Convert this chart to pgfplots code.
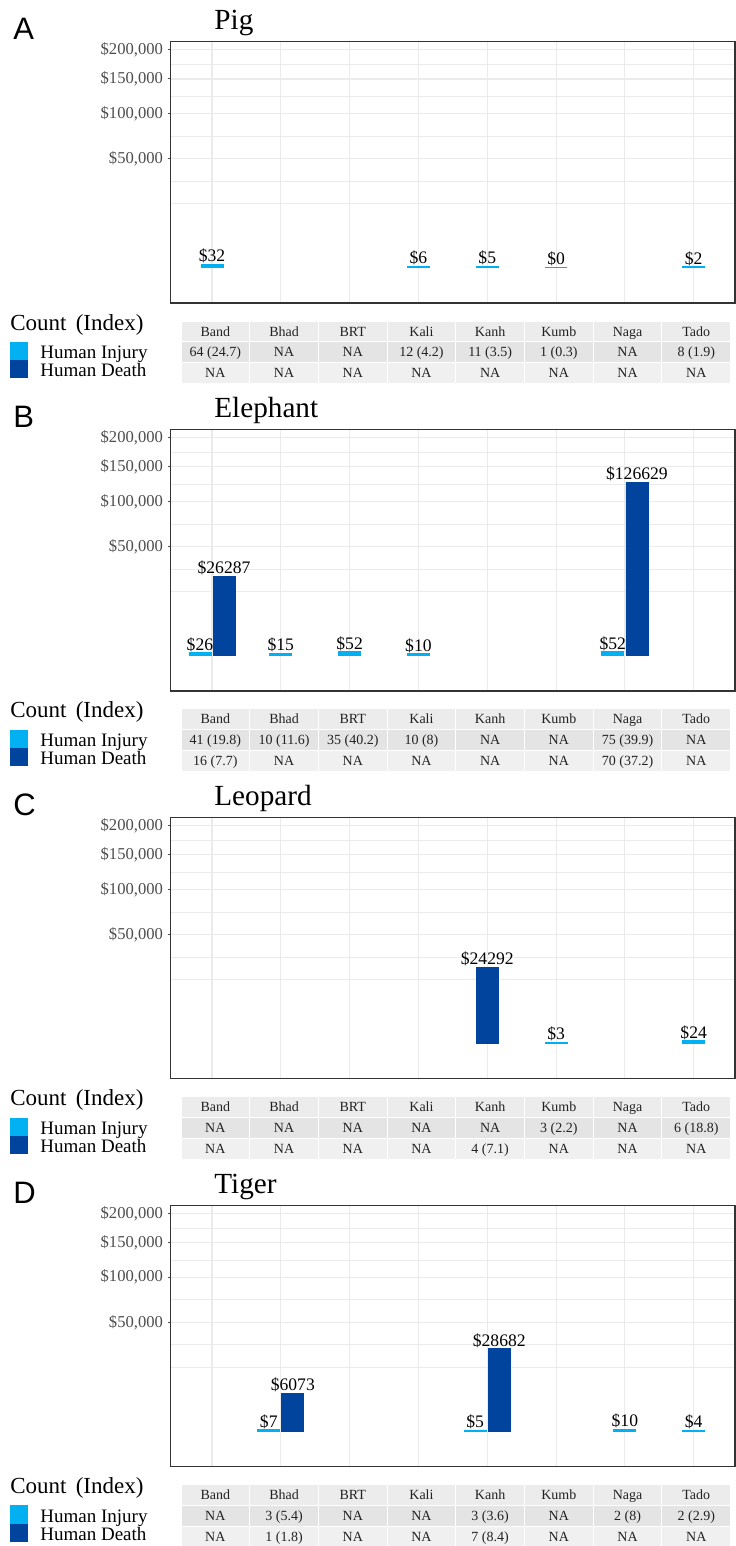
\documentclass[border=0pt]{standalone}
\usepackage{fontspec}
\setmainfont{Liberation Serif}
\newfontfamily\lettersf{Liberation Sans}
\usepackage{pgfplots}
\usepackage{pgfplotstable}
\pgfplotsset{compat=1.18}

\definecolor{injc}{HTML}{00B0F0}
\definecolor{deathc}{HTML}{00449E}
\definecolor{gridc}{HTML}{EBEBEB}
\definecolor{framec}{HTML}{333333}
\definecolor{tickc}{HTML}{4D4D4D}
\definecolor{hdrc}{HTML}{ECECEC}
\definecolor{rowAc}{HTML}{E4E4E4}
\definecolor{rowBc}{HTML}{F0F0F0}
\definecolor{tabtext}{HTML}{222222}

% ---- data (dollar values; x = category position 1..8, dodged by +-0.175) ----
\pgfplotstableread{
x y lab
1 32 32
4 6 6
5 5 5
6 0 0
8 2 2
}\pigInj
\pgfplotstableread{
x y lab
0.825 26 26
2 15 15
3 52 52
4 10 10
6.825 52 52
}\eleInj
\pgfplotstableread{
x y lab
1.175 26287 26287
7.175 126629 126629
}\eleDeath
\pgfplotstableread{
x y lab
6 3 3
8 24 24
}\leoInj
\pgfplotstableread{
x y lab
5 24292 24292
}\leoDeath
\pgfplotstableread{
x y lab
1.825 7 7
4.825 5 5
7 10 10
8 4 4
}\tigInj
\pgfplotstableread{
x y lab
2.175 6073 6073
5.175 28682 28682
}\tigDeath

\pgfplotsset{
 panel/.style={
  scale only axis, width=282.15pt, height=130.65pt, anchor=north west,
  xmin=0.4, xmax=8.6, ymin=-73.5, ymax=464,
  xtick={1,2,3,4,5,6,7,8}, xticklabels={},
  ytick={223.607,316.228,387.298,447.214},
  yticklabels={{\$50,000},{\$100,000},{\$150,000},{\$200,000}},
  minor ytick={130.986,177.296,269.917,351.763,417.256},
  xmajorgrids=true, ymajorgrids=true, yminorgrids=true,
  major grid style={draw=gridc, line width=0.55pt},
  minor grid style={draw=gridc, line width=0.3pt},
  axis line style={draw=framec, line width=0.6pt},
  tick align=outside, major tick length=1.5pt, minor tick length=0pt,
  xtick style={draw=none},
  ytick style={draw=tickc, line width=0.5pt},
  yticklabel style={font=\fontsize{8.3}{9}\selectfont, text=tickc, inner sep=0pt, xshift=-2.2pt},
  y filter/.expression={sqrt(y)},
  ybar, bar width=0.32, bar shift=0pt,
  point meta=explicit symbolic,
  nodes near coords={\$\pgfplotspointmeta},
  every node near coord/.append style={font=\fontsize{8.8}{10}\selectfont, text=black, anchor=south, inner sep=0pt, yshift=0.4pt},
  clip=false,
 },
 inj/.style={fill=injc, draw=injc, line width=0.4pt, bar shift=0pt},
 death/.style={fill=deathc, draw=deathc, line width=0.4pt, bar shift=0pt},
}

\tikzset{tabnode/.style={anchor=base, inner sep=0pt, font=\fontsize{7}{8}\selectfont, text=tabtext}}

\newcommand{\panelextras}[5]{%
\begin{scope}[x=0.5pt,y=-0.5pt,shift={(0,#1)}]
 \node[anchor=base west, inner sep=0pt, font=\lettersf\fontsize{15.5}{18}\selectfont] at (13,39.3) {#2};
 \node[anchor=base west, inner sep=0pt, font=\fontsize{14.6}{16}\selectfont] at (214,30) {#3};
 \node[anchor=base west, inner sep=0pt, font=\fontsize{11.5}{13}\selectfont] at (10,330) {Count\hspace{0.4em}(Index)};
 \fill[injc] (10,341.7) rectangle (27.7,360);
 \fill[deathc] (10,360) rectangle (27.7,378.3);
 \node[anchor=base west, inner sep=0pt, font=\fontsize{9.5}{11}\selectfont] at (40,358.3) {Human Injury};
 \node[anchor=base west, inner sep=0pt, font=\fontsize{9.5}{11}\selectfont] at (40,376.7) {Human Death};
 \foreach \c [count=\i from 0] in {Band,Bhad,BRT,Kali,Kanh,Kumb,Naga,Tado} {
   \fill[hdrc] ({181+68.7*\i+0.5},321.5) rectangle ({181+68.7*(\i+1)-0.5},341.3);
   \node[tabnode] at ({181+68.7*(\i+0.5)},336.0) {\c};
 }
 \foreach \v [count=\i from 0] in {#4} {
   \fill[rowAc] ({181+68.7*\i+0.5},342.3) rectangle ({181+68.7*(\i+1)-0.5},362.1);
   \node[tabnode] at ({181+68.7*(\i+0.5)},356.8) {\v};
 }
 \foreach \v [count=\i from 0] in {#5} {
   \fill[rowBc] ({181+68.7*\i+0.5},363.1) rectangle ({181+68.7*(\i+1)-0.5},382.9);
   \node[tabnode] at ({181+68.7*(\i+0.5)},377.6) {\v};
 }
\end{scope}}

\begin{document}
\begin{tikzpicture}
\useasboundingbox (0,0) rectangle (367.5pt,-773pt);

% ---------- A: Pig ----------
\begin{axis}[panel, at={(85.35pt,-20.85pt)}]
\addplot[inj] table[x=x,y=y,meta=lab] {\pigInj};
\end{axis}
\panelextras{0}{A}{Pig}{64 (24.7),NA,NA,12 (4.2),11 (3.5),1 (0.3),NA,8 (1.9)}{NA,NA,NA,NA,NA,NA,NA,NA}

% ---------- B: Elephant ----------
\begin{axis}[panel, at={(85.35pt,-214.8pt)}]
\addplot[inj] table[x=x,y=y,meta=lab] {\eleInj};
\addplot[death] table[x=x,y=y,meta=lab] {\eleDeath};
\end{axis}
\panelextras{387.9}{B}{Elephant}{41 (19.8),10 (11.6),35 (40.2),10 (8),NA,NA,75 (39.9),NA}{16 (7.7),NA,NA,NA,NA,NA,70 (37.2),NA}

% ---------- C: Leopard ----------
\begin{axis}[panel, at={(85.35pt,-408.75pt)}]
\addplot[inj] table[x=x,y=y,meta=lab] {\leoInj};
\addplot[death] table[x=x,y=y,meta=lab] {\leoDeath};
\end{axis}
\panelextras{775.8}{C}{Leopard}{NA,NA,NA,NA,NA,3 (2.2),NA,6 (18.8)}{NA,NA,NA,NA,4 (7.1),NA,NA,NA}

% ---------- D: Tiger ----------
\begin{axis}[panel, at={(85.35pt,-602.7pt)}]
\addplot[inj] table[x=x,y=y,meta=lab] {\tigInj};
\addplot[death] table[x=x,y=y,meta=lab] {\tigDeath};
\end{axis}
\panelextras{1163.7}{D}{Tiger}{NA,3 (5.4),NA,NA,3 (3.6),NA,2 (8),2 (2.9)}{NA,1 (1.8),NA,NA,7 (8.4),NA,NA,NA}

\end{tikzpicture}
\end{document}
